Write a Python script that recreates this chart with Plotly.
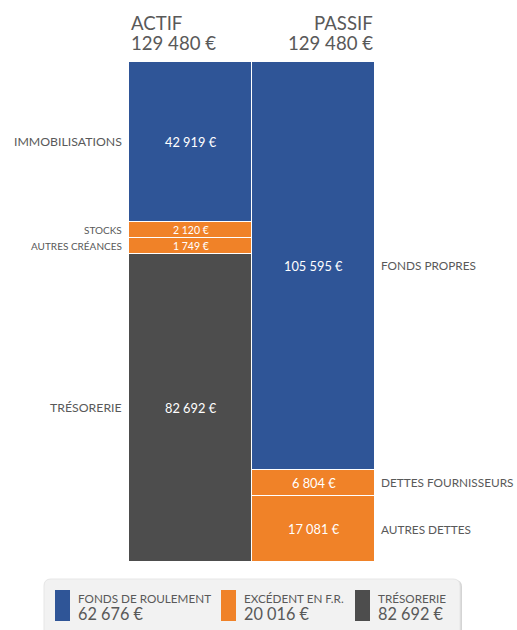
import plotly.graph_objects as go

# ---------------- data ----------------
column_titles = ["ACTIF", "PASSIF"]
actif_labels = ["IMMOBILISATIONS", "STOCKS", "AUTRES CRÉANCES", "TRÉSORERIE"]
actif_values = [42919, 2120, 1749, 82692]
passif_labels = ["FONDS PROPRES", "DETTES FOURNISSEURS", "AUTRES DETTES"]
passif_values = [105595, 6804, 17081]
legend_labels = ["FONDS DE ROULEMENT", "EXCÉDENT EN F.R.", "TRÉSORERIE"]
legend_values = [62676, 20016, 82692]

# ---------------- styles ----------------
BLUE, ORANGE, GREY = "#2F5597", "#F08228", "#4D4D4D"
actif_colors = [BLUE, ORANGE, ORANGE, GREY]
passif_colors = [BLUE, ORANGE, ORANGE]
legend_colors = [BLUE, ORANGE, GREY]
TXT = "#595959"
FONT = "Lato"

W, H = 517, 630
L, R, T, B = 129, 375, 62, 562   # plot area in pixels
MIN_FRAC = 16 / 500               # minimum displayed segment height


def fmt(v):
    return f"{v:,}".replace(",", " ") + " €"


def display_sizes(values):
    total = sum(values)
    floor = MIN_FRAC * total
    small = [v < floor for v in values]
    rest = total - floor * sum(small)
    big_total = sum(v for v, s in zip(values, small) if not s)
    return [floor if s else v * rest / big_total for v, s in zip(values, small)]


def px(x):
    return (x - L) / (R - L)


def py(y):
    return (B - y) / (B - T)


fig = go.Figure()
annotations = []

columns = [
    (actif_labels, actif_values, actif_colors, -1),
    (passif_labels, passif_values, passif_colors, 1),
]
for ci, (labels, values, colors, side) in enumerate(columns):
    sizes = display_sizes(values)
    cum = 0
    for lab, val, col, d in zip(labels, values, colors, sizes):
        fig.add_trace(go.Bar(
            x=[ci], y=[d], width=1, marker=dict(color=col, line=dict(color="white", width=1)),
            name=lab, hovertext=[f"{lab}: {fmt(val)}"], hoverinfo="text", showlegend=False,
        ))
        mid = cum + d / 2
        small = val < MIN_FRAC * sum(values) * 1.001
        fs_v = 10.5 if small else 12.8
        fs_l = 10 if small else (12.3 if side < 0 else 11.8)
        annotations.append(dict(x=ci, y=mid, xref="x", yref="y", text=fmt(val), showarrow=False,
                                font=dict(family=FONT, size=fs_v, color="white")))
        annotations.append(dict(x=ci + 0.5 * side, y=mid, xref="x", yref="y", text=lab,
                                showarrow=False, xanchor="right" if side < 0 else "left",
                                xshift=-5 if side < 0 else 4,
                                font=dict(family=FONT, size=fs_l, color=TXT)))
        cum += d

# column headers
totals = [sum(actif_values), sum(passif_values)]
for ci, (title, tot) in enumerate(zip(column_titles, totals)):
    xa = "left" if ci == 0 else "right"
    annotations.append(dict(x=ci, y=py(23), xref="paper", yref="paper", text=title, showarrow=False,
                            xanchor=xa, yanchor="middle", font=dict(family=FONT, size=18.6, color=TXT)))
    annotations.append(dict(x=ci, y=py(43), xref="paper", yref="paper", text=fmt(tot), showarrow=False,
                            xanchor=xa, yanchor="middle", font=dict(family=FONT, size=18.6, color=TXT)))

# legend box
def rounded_top(x0, x1, y0, y1, r):
    pts = (f"M {px(x0)} {py(y1)} L {px(x0)} {py(y0 + r)} "
           f"Q {px(x0)} {py(y0)} {px(x0 + r)} {py(y0)} L {px(x1 - r)} {py(y0)} "
           f"Q {px(x1)} {py(y0)} {px(x1)} {py(y0 + r)} L {px(x1)} {py(y1)} Z")
    return pts

shapes = [
    dict(type="path", xref="paper", yref="paper", path=rounded_top(45, 462, 580, 640, 7),
         fillcolor="#D4D4D4", line=dict(width=0), layer="below"),
    dict(type="path", xref="paper", yref="paper", path=rounded_top(44, 460, 579, 640, 7),
         fillcolor="#F2F2F2", line=dict(color="#E6E6E6", width=1), layer="below"),
]
legend_x = [55, 221, 355]
for lx, lab, val, col in zip(legend_x, legend_labels, legend_values, legend_colors):
    shapes.append(dict(type="rect", xref="paper", yref="paper", x0=px(lx), x1=px(lx + 15),
                       y0=py(621), y1=py(590), fillcolor=col, line=dict(width=0)))
    annotations.append(dict(x=px(lx + 21), y=py(597.5), xref="paper", yref="paper", text=lab,
                            showarrow=False, xanchor="left", yanchor="middle",
                            font=dict(family=FONT, size=11.7, color=TXT)))
    annotations.append(dict(x=px(lx + 21), y=py(613.5), xref="paper", yref="paper", text=fmt(val),
                            showarrow=False, xanchor="left", yanchor="middle",
                            font=dict(family=FONT, size=16.3, color=TXT)))

fig.update_layout(
    width=W, height=H, autosize=False,
    margin=dict(l=L, r=W - R, t=T, b=H - B, pad=0),
    paper_bgcolor="white", plot_bgcolor="white",
    barmode="stack", bargap=0,
    xaxis=dict(range=[-0.5, 1.5], visible=False, fixedrange=True),
    yaxis=dict(range=[sum(actif_values), 0], visible=False, fixedrange=True),
    annotations=annotations, shapes=shapes,
    font=dict(family=FONT, color=TXT),
)

fig.write_html("out.html", config={"displayModeBar": False},
               post_script="document.body.style.margin='0';document.body.style.overflow='hidden';")
